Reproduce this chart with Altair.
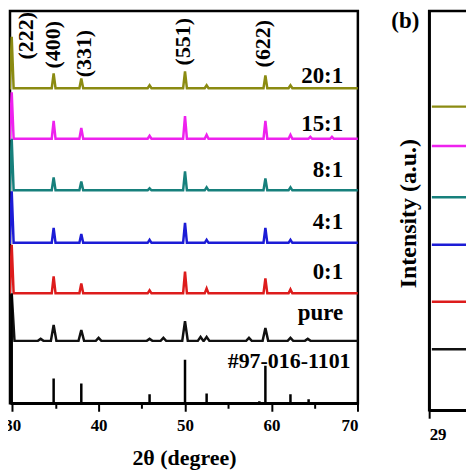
import altair as alt
import pandas as pd

FONT = "Liberation Serif"

# ---------------- panel (a): XRD patterns ----------------
series = ["20:1", "15:1", "8:1", "4:1", "0:1", "pure"]
colors = ["#8b8b12", "#ee22ee", "#17807c", "#1c1cd6", "#dd1c1c", "#111111"]
offsets_a = [318, 267, 215, 162, 111, 63]

pos_main = [29.95, 34.8, 38.0, 45.9, 50.0, 52.5, 59.3, 62.2]
pos_15 = [29.95, 34.8, 38.0, 45.9, 50.0, 52.5, 59.3, 62.2, 64.5, 67.0]
pos_pure = [29.95, 33.3, 34.8, 38.0, 40.0, 45.9, 47.5, 50.0, 51.8, 52.5, 57.4, 59.3, 62.2, 64.2]

h_20 = [52, 15, 10, 3, 17, 3, 13, 3]
h_15 = [47, 18, 11, 3, 23, 4, 18, 4, 2, 2]
h_8 = [52, 13, 9, 2, 19, 3, 12, 3]
h_4 = [52, 15, 9, 3, 20, 3, 15, 3]
h_0 = [49, 17, 10, 3, 22, 5, 15, 4]
h_pure = [48, 2, 16, 11, 3, 2, 3, 20, 4, 4, 3, 13, 3, 2]

peak_pos = [pos_main, pos_15, pos_main, pos_main, pos_main, pos_pure]
peak_h = [h_20, h_15, h_8, h_4, h_0, h_pure]
half_w = [0.22, 0.22, 0.22, 0.22, 0.22, 0.32]
theta_start, theta_end = 29.0, 70.0
axis_min = 29.75

# reference card #97-016-1101
stick_pos = [29.95, 34.8, 38.0, 45.9, 50.0, 52.5, 58.6, 59.3, 62.2, 64.3]
stick_h = [110, 25, 20, 9, 44, 10, 2, 38, 9, 4]

# sample labels
label_text = series
label_x = [68.3] * 6
label_y = [330, 282, 235, 183, 133, 91]
card_text = ["#97-016-1101"]
card_x = [69.15]
card_y = [43]

# Miller indices
hkl_text = ["(222)", "(400)", "(331)", "(551)", "(622)"]
hkl_x = [31.6, 34.75, 38.3, 49.8, 59.05]
hkl_y = [371, 362, 353, 365, 363]

# ---------------- panel (b) ----------------
offsets_b = [308, 268, 216, 168, 110, 62]
b_x = [29.015, 29.25]

# ---------- build tables ----------
rows = []
for s, off, pos, hts, hw in zip(series, offsets_a, peak_pos, peak_h, half_w):
    pts = [(theta_start, 0)]
    for p, h in sorted(zip(pos, hts)):
        pts += [(p - hw, 0), (p, h), (p + hw, 0)]
    pts.append((theta_end, 0))
    for i, (x, y) in enumerate(pts):
        rows.append({"series": s, "theta": x, "inten": off + y, "order": i})
df_a = pd.DataFrame(rows)

df_sticks = pd.DataFrame({"theta": stick_pos, "base": [0] * len(stick_pos), "h": stick_h})
df_labels = pd.DataFrame({"t": label_text, "x": label_x, "y": label_y})
df_card = pd.DataFrame({"t": card_text, "x": card_x, "y": card_y})
df_hkl = pd.DataFrame({"t": hkl_text, "x": hkl_x, "y": hkl_y})

rows_b = []
for s, off in zip(series, offsets_b):
    for i, x in enumerate(b_x):
        rows_b.append({"series": s, "theta": x, "inten": off, "order": i})
df_b = pd.DataFrame(rows_b)

color_scale = alt.Scale(domain=series, range=colors)

xa_scale = alt.Scale(domain=[axis_min, theta_end], nice=False, zero=False)
ya_scale = alt.Scale(domain=[0, 396], nice=False)

tick_size = {"condition": {"test": "datum.value % 10 == 0", "value": 8}, "value": 5}

x_axis_a = alt.Axis(
    values=[30, 35, 40, 45, 50, 55, 60, 65, 70],
    labelExpr="datum.value % 10 == 0 ? datum.label : ''",
    tickSize=tick_size, tickWidth=2, tickColor="black",
    domainWidth=2.5, domainColor="black",
    labelFont=FONT, labelFontSize=17, labelFontWeight="bold", labelColor="black",
    labelPadding=6, labelOverlap=False,
    title="2θ (degree)", titleFont=FONT, titleFontSize=22, titleFontWeight="bold",
    titleColor="black", titlePadding=14, grid=False,
)

lines_a = alt.Chart(df_a).mark_line(strokeWidth=2.5, clip=True).encode(
    x=alt.X("theta:Q", scale=xa_scale, axis=x_axis_a),
    y=alt.Y("inten:Q", scale=ya_scale, axis=None),
    color=alt.Color("series:N", scale=color_scale, legend=None),
    order="order:Q",
)

sticks = alt.Chart(df_sticks).mark_rule(strokeWidth=2.5, color="black", clip=True).encode(
    x=alt.X("theta:Q", scale=xa_scale),
    y=alt.Y("base:Q", scale=ya_scale),
    y2="h:Q",
)

labels = alt.Chart(df_labels).mark_text(
    align="right", baseline="middle", font=FONT, fontSize=23, fontWeight="bold", color="black"
).encode(x=alt.X("x:Q", scale=xa_scale), y=alt.Y("y:Q", scale=ya_scale), text="t:N")

card = alt.Chart(df_card).mark_text(
    align="right", baseline="middle", font=FONT, fontSize=22, fontWeight="bold", color="black"
).encode(x=alt.X("x:Q", scale=xa_scale), y=alt.Y("y:Q", scale=ya_scale), text="t:N")

hkl = alt.Chart(df_hkl).mark_text(
    angle=270, align="center", baseline="middle", font=FONT, fontSize=22, fontWeight="bold", color="black"
).encode(x=alt.X("x:Q", scale=xa_scale), y=alt.Y("y:Q", scale=ya_scale), text="t:N")

panel_a = alt.layer(lines_a, sticks, labels, card, hkl).properties(width=349.4, height=394)

# ---- panel (b)
xb_scale = alt.Scale(domain=[29.0, 29.25], nice=False, zero=False)
yb_scale = alt.Scale(domain=[0, 405], nice=False)

lines_b = alt.Chart(df_b).mark_line(strokeWidth=2.5, clip=True).encode(
    x=alt.X("theta:Q", scale=xb_scale, axis=alt.Axis(
        values=[29], format="d", tickSize=8, tickWidth=2, tickColor="black",
        domainWidth=2.5, domainColor="black",
        labelFont=FONT, labelFontSize=17, labelFontWeight="bold", labelColor="black",
        labelPadding=8, title=None, grid=False)),
    y=alt.Y("inten:Q", scale=yb_scale, axis=alt.Axis(
        labels=False, ticks=False, grid=False, domainWidth=2.5, domainColor="black",
        title="Intensity (a.u.)", titleFont=FONT, titleFontSize=24, titleFontWeight="bold",
        titleColor="black", titlePadding=9, titleY=203)),
    color=alt.Color("series:N", scale=color_scale, legend=None),
    order="order:Q",
)

tag_b = alt.Chart(pd.DataFrame({"t": ["(b)"]})).mark_text(
    font=FONT, fontSize=23, fontWeight="bold", color="black", align="center", baseline="middle"
).encode(text="t:N", x=alt.value(-24), y=alt.value(10))

panel_b = alt.layer(lines_b, tag_b).properties(width=45, height=401)

chart = alt.hconcat(panel_a, panel_b, spacing=29).properties(
    padding={"left": -6, "top": -1, "right": -10, "bottom": 0}
).configure_view(stroke="black", strokeWidth=2.5)

chart.save("out.html", embed_options={"renderer": "svg", "actions": False})
